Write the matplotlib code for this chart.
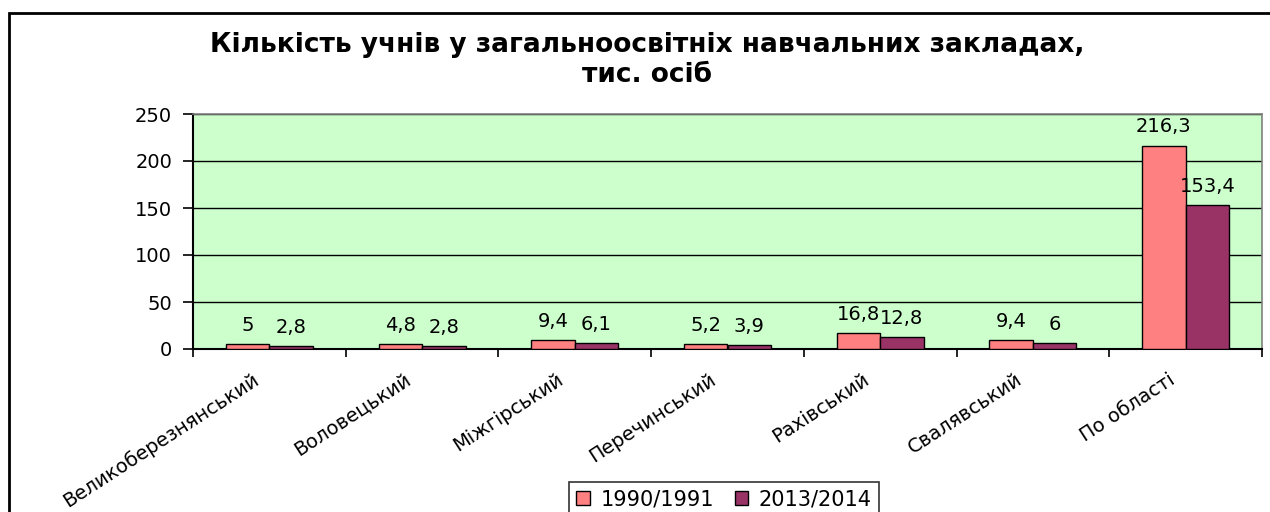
import matplotlib
matplotlib.use('Agg')
import matplotlib.pyplot as plt
import matplotlib.patches as mpatches
import matplotlib.transforms as mtransforms
import numpy as np

plt.rcParams['font.family'] = ['DejaVu Sans']

# Дані
rayony = ['Великоберезнянський', 'Воловецький', 'Міжгірський', 'Перечинський',
          'Рахівський', 'Свалявський', 'По області']
s1990 = [5, 4.8, 9.4, 5.2, 16.8, 9.4, 216.3]
s2013 = [2.8, 2.8, 6.1, 3.9, 12.8, 6, 153.4]
series_names = ['1990/1991', '2013/2014']
y_ticks = [0, 50, 100, 150, 200, 250]

col1 = '#FF8080'
col2 = '#993366'

W, H = 1270, 512
fig = plt.figure(figsize=(W / 100, H / 100), dpi=100)
ax = fig.add_axes([193 / W, 1 - 349 / H, (1262 - 193) / W, (349 - 114) / H])
ax.set_facecolor('#CCFFCC')

x = np.arange(len(rayony))
bw = 0.285
b1 = ax.bar(x - bw / 2, s1990, bw, color=col1, edgecolor='black', linewidth=1, label=series_names[0], zorder=3)
b2 = ax.bar(x + bw / 2, s2013, bw, color=col2, edgecolor='black', linewidth=1, label=series_names[1], zorder=3)

def fmt(v):
    return ('%g' % v).replace('.', ',')

for bars, vals in ((b1, s1990), (b2, s2013)):
    for b, v in zip(bars, vals):
        ax.annotate(fmt(v), (b.get_x() + b.get_width() / 2, v), xytext=(0, 9.5),
                    textcoords='offset points', ha='center', va='baseline',
                    fontsize=14, zorder=4)

ax.set_xlim(-0.5, len(rayony) - 0.5)
ax.set_ylim(0, 250)
ax.set_yticks(y_ticks)
ax.set_yticklabels([str(t) for t in y_ticks], fontsize=14)
ax.yaxis.grid(True, color='black', linewidth=1, zorder=1)
ax.set_axisbelow(True)

ax.set_xticks(x)
ax.set_xticklabels(rayony, fontsize=14, rotation=33, ha='right', rotation_mode='anchor')
ax.set_xticks(np.arange(len(rayony) + 1) - 0.5, minor=True)
ax.tick_params(axis='x', which='major', length=0, pad=15)
ax.tick_params(axis='x', which='minor', length=6, width=1.2, direction='out')
ax.tick_params(axis='y', length=7, width=1.2, direction='out', pad=8)
shift = mtransforms.ScaledTranslation(-18 / 100, 0, fig.dpi_scale_trans)
for lbl in ax.get_xticklabels():
    lbl.set_transform(lbl.get_transform() + shift)

for s in ('top', 'right'):
    ax.spines[s].set_color('#808080')
    ax.spines[s].set_linewidth(1.2)
for s in ('left', 'bottom'):
    ax.spines[s].set_color('black')
    ax.spines[s].set_linewidth(1.5)

fig.text(647 / W, 1 - 45 / H, 'Кількість учнів у загальноосвітніх навчальних закладах,',
         ha='center', va='center', fontsize=19, fontweight='bold')
fig.text(647 / W, 1 - 75 / H, 'тис. осіб', ha='center', va='center',
         fontsize=19, fontweight='bold')

leg = fig.legend(handles=[b1, b2], labels=series_names, loc='upper center',
                 bbox_to_anchor=(724 / W, 1 - 482 / H), ncol=2, fontsize=15,
                 frameon=True, fancybox=False, edgecolor='black',
                 handlelength=0.65, handleheight=0.65, handletextpad=0.5,
                 columnspacing=1.0, borderpad=0.35, borderaxespad=0)
leg.get_frame().set_linewidth(1.2)

# рамка навколо діаграми
fig.patches.append(mpatches.Rectangle((9 / W, -0.2), 1.2, 1.2 - 13 / H,
                                      transform=fig.transFigure, fill=False,
                                      edgecolor='black', linewidth=2))

fig.savefig('out.png', dpi=100)
